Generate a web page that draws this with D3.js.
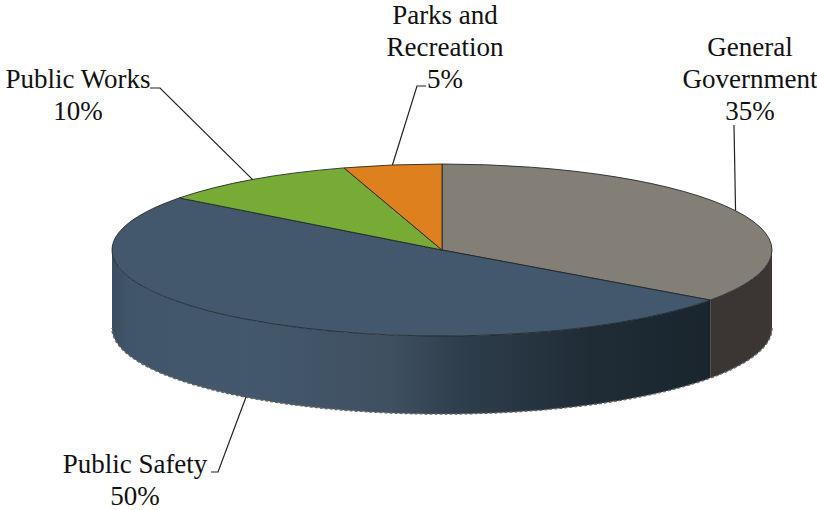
<!DOCTYPE html>
<html>
<head>
<meta charset="utf-8">
<script src="https://cdn.jsdelivr.net/npm/d3@7"></script>
<style>
  html, body { margin: 0; padding: 0; background: #fff; overflow: hidden; }
  text { font-family: "Liberation Serif", serif; font-size: 27px; fill: #111; }
</style>
</head>
<body>
<div id="chart"></div>
<script>
const categories = ["General Government", "Public Safety", "Public Works", "Parks and Recreation"];
const shares = [34.9, 50.45, 9.85, 4.8];
const shareLabels = ["35%", "50%", "10%", "5%"];
const labelLines = [["General", "Government"], ["Public Safety"], ["Public Works"], ["Parks and", "Recreation"]];

const topColors = ["#837f76", "#43586d", "#78ab35", "#df801f"];
const sideColors = ["#3b3633", "url(#safetySide)", "#5a8028", "#a8601a"];

const width = 817, height = 510;
const cx = 442, cy = 250, rx = 330, ry = 86, depth = 78;

// where each label sits, and how its leader gets there
const labelLayout = [
  { x: 750, y: 56, elbow: [734, 125], end: null },
  { x: 135, y: 473, elbow: [218, 472], end: [211, 472] },
  { x: 78, y: 88, elbow: [160, 88], end: [150, 88] },
  { x: 445, y: 24, elbow: [417, 86], end: [426, 86] }
];
const lineStep = 32;

const svg = d3.select("#chart").append("svg")
  .attr("width", width)
  .attr("height", height);

const grad = svg.append("defs").append("linearGradient")
  .attr("id", "safetySide")
  .attr("gradientUnits", "userSpaceOnUse")
  .attr("x1", cx - rx).attr("x2", cx + rx * 0.82)
  .attr("y1", 0).attr("y2", 0);
[[0, "#3a4e61"], [0.03, "#405569"], [0.22, "#43586d"], [0.46, "#3f5061"],
 [0.58, "#2f3e4c"], [0.8, "#1f2c36"], [1, "#1a252d"]].forEach(s => {
  grad.append("stop").attr("offset", s[0]).attr("stop-color", s[1]);
});

const pie = d3.pie().sort(null).value(d => d);
const slices = pie(shares);

// tilted disc: angle 0 is 12 o'clock, clockwise
const px = a => cx + rx * Math.sin(a);
const py = a => cy - ry * Math.cos(a);
const line = d3.line();

// only the front half of the wall is visible
function sidePath(a0, a1) {
  const from = Math.max(a0, Math.PI / 2), to = Math.min(a1, Math.PI * 1.5);
  if (from >= to) return null;
  const angles = d3.range(from, to, 0.01).concat([to]);
  const top = angles.map(a => [px(a), py(a)]);
  const bottom = angles.slice().reverse().map(a => [px(a), py(a) + depth]);
  return line(top.concat(bottom)) + "Z";
}

svg.append("g").selectAll("path")
  .data(slices.filter(d => sidePath(d.startAngle, d.endAngle)))
  .enter().append("path")
  .attr("d", d => sidePath(d.startAngle, d.endAngle))
  .attr("fill", d => sideColors[d.index]);

// speckled lower rim
const rimAngles = d3.range(Math.PI / 2, Math.PI * 1.5, 0.01);
svg.append("path")
  .attr("d", line(rimAngles.map(a => [px(a), py(a) + depth])))
  .attr("fill", "none")
  .attr("stroke", "#666")
  .attr("stroke-width", 1.5)
  .attr("stroke-dasharray", "3 2");

const arc = d3.arc().innerRadius(0).outerRadius(rx);
svg.append("g")
  .attr("transform", `translate(${cx},${cy}) scale(1,${ry / rx})`)
  .selectAll("path")
  .data(slices)
  .enter().append("path")
  .attr("d", arc)
  .attr("fill", d => topColors[d.index])
  .attr("stroke", "#1c2228")
  .attr("stroke-width", 1)
  .attr("stroke-opacity", 0.85)
  .attr("vector-effect", "non-scaling-stroke");

// leader lines start at the slice's middle angle
svg.append("g").selectAll("path")
  .data(slices)
  .enter().append("path")
  .attr("d", d => {
    const mid = (d.startAngle + d.endAngle) / 2;
    const front = Math.cos(mid) < 0;
    const start = [px(mid), py(mid) + (front && Math.abs(Math.sin(mid)) < 0.7 ? depth : 0)];
    const lay = labelLayout[d.index];
    return line(lay.end ? [start, lay.elbow, lay.end] : [start, lay.elbow]);
  })
  .attr("fill", "none")
  .attr("stroke", "#222")
  .attr("stroke-width", 1.2);

const labels = svg.append("g").selectAll("text")
  .data(categories)
  .enter().append("text")
  .attr("text-anchor", "middle")
  .attr("y", (d, i) => labelLayout[i].y)
  .attr("aria-label", d => d);

labels.each(function (d, i) {
  const t = d3.select(this);
  labelLines[i].concat(shareLabels[i]).forEach((s, j) => {
    t.append("tspan")
      .attr("x", labelLayout[i].x)
      .attr("dy", j ? lineStep : 0)
      .text(s);
  });
});
</script>
</body>
</html>
